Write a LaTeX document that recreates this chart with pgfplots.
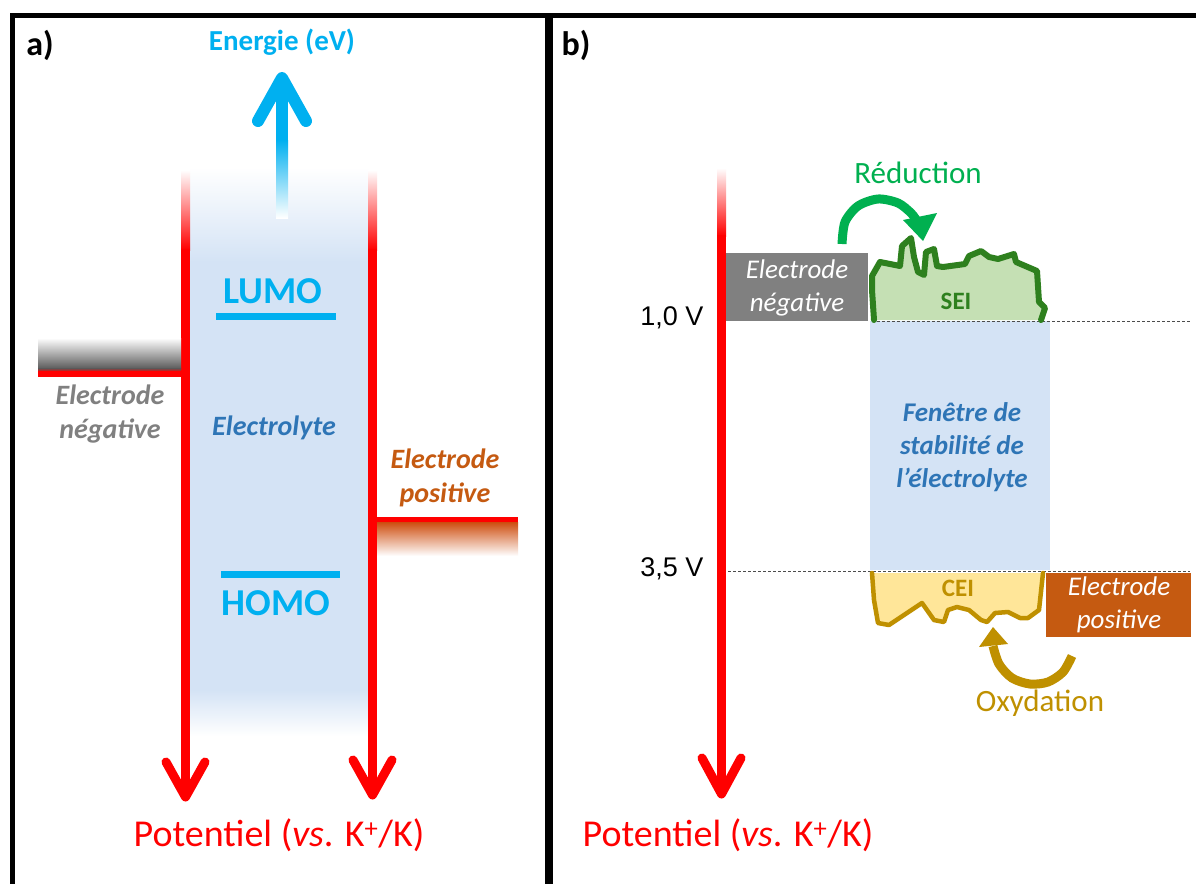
\documentclass[border=0pt]{standalone}
\usepackage{pgfplots}
\pgfplotsset{compat=1.18}
\usepackage{fontspec}
\setmainfont{Carlito}
\newfontfamily\arialfont{Liberation Sans}
\definecolor{cblue}{HTML}{00B0F0}
\definecolor{eblue}{HTML}{2E75B6}
\definecolor{lyte}{RGB}{212,227,245}
\definecolor{egray}{RGB}{128,128,128}
\definecolor{ebrown}{HTML}{C55A11}
\definecolor{seifill}{HTML}{C5E0B4}
\definecolor{seiline}{RGB}{46,128,30}
\definecolor{redgreen}{HTML}{00B050}
\definecolor{ceifill}{HTML}{FFE699}
\definecolor{gold}{HTML}{BF9000}
\newcommand{\fs}[1]{\fontsize{#1}{#1}\selectfont}

\begin{document}
\begin{tikzpicture}
\begin{axis}[width=1196pt, height=884pt, scale only axis,
  xmin=0, xmax=1196, ymin=0, ymax=884, y dir=reverse,
  hide axis, clip=false]

% background and frames
\addplot[draw=none, fill=white] coordinates {(0,0)(1196,0)(1196,884)(0,884)} -- cycle;
\addplot[draw=none, fill=black] coordinates {(10,13)(1196,13)(1196,18)(10,18)} -- cycle;
\addplot[draw=none, fill=black] coordinates {(10,13)(15,13)(15,884)(10,884)} -- cycle;
\addplot[draw=none, fill=black] coordinates {(545,13)(553,13)(553,884)(545,884)} -- cycle;

% ---------- panel a ----------
% electrolyte
\addplot[draw=none, top color=white, bottom color=lyte] coordinates {(190,167)(368,167)(368,262)(190,262)} -- cycle;
\addplot[draw=none, fill=lyte] coordinates {(190,261)(368,261)(368,691)(190,691)} -- cycle;
\addplot[draw=none, top color=lyte, bottom color=white] coordinates {(190,690)(368,690)(368,736)(190,736)} -- cycle;

% energy arrow
\addplot[draw=none, top color=cblue, bottom color=white] coordinates {(276,140)(288,140)(288,218)(276,218)} -- cycle;
\addplot[draw=none, fill=cblue] coordinates {(276,85)(288,85)(288,141)(276,141)} -- cycle;
\addplot[cblue, line width=12pt, line cap=round, line join=round] coordinates {(258,121)(282,78)(306,121)};

% red potential axes
\addplot[draw=none, top color=white, bottom color=red] coordinates {(181,170)(190,170)(190,250)(181,250)} -- cycle;
\addplot[draw=none, fill=red] coordinates {(181,249)(190,249)(190,794)(181,794)} -- cycle;
\addplot[red, line width=9pt, line cap=round, line join=round] coordinates {(166,762)(185.5,797)(205,762)};
\addplot[draw=none, top color=white, bottom color=red] coordinates {(368,170)(377,170)(377,250)(368,250)} -- cycle;
\addplot[draw=none, fill=red] coordinates {(368,249)(377,249)(377,792)(368,792)} -- cycle;
\addplot[red, line width=9pt, line cap=round, line join=round] coordinates {(353,760)(372.5,795)(392,760)};

% LUMO / HOMO
\addplot[cblue, line width=7pt] coordinates {(216,316)(336,316)};
\addplot[cblue, line width=7pt] coordinates {(221,574)(340,574)};

% electrodes
\addplot[draw=none, top color=white, bottom color=black!65] coordinates {(38,338)(181,338)(181,369)(38,369)} -- cycle;
\addplot[draw=none, top color=black!65, bottom color=red] coordinates {(38,368)(181,368)(181,372)(38,372)} -- cycle;
\addplot[draw=none, fill=red] coordinates {(38,371)(181,371)(181,377)(38,377)} -- cycle;
\addplot[draw=none, fill=red] coordinates {(377,517)(518,517)(518,523)(377,523)} -- cycle;
\addplot[draw=none, top color=ebrown!85!red, bottom color=white] coordinates {(377,522)(518,522)(518,556)(377,556)} -- cycle;

\node[font=\fs{34}\bfseries] at (axis cs:40,45) {a)};
\node[font=\fs{29}\bfseries, text=cblue] at (axis cs:282,42) {Energie (eV)};
\node[font=\fs{38}\bfseries, text=cblue] at (axis cs:273,291) {LUMO};
\node[font=\fs{38}\bfseries, text=cblue] at (axis cs:276,603) {HOMO};
\node[font=\fs{28}\bfseries\itshape, text=eblue] at (axis cs:274,428) {Electrolyte};
\node[font=\fs{28}\bfseries\itshape, text=egray, align=center] at (axis cs:110,414) {Electrode\\[6pt]négative};
\node[font=\fs{28}\bfseries\itshape, text=ebrown, align=center] at (axis cs:445,478) {Electrode\\[6pt]positive};
\node[font=\fs{38}, text=red] at (axis cs:279,835) {Potentiel (\textit{vs}. K\textsuperscript{+}/K)};

% ---------- panel b ----------
% stability window
\addplot[draw=none, fill=lyte] coordinates {(870,321)(1050,321)(1050,570)(870,570)} -- cycle;

% red axis
\addplot[draw=none, top color=white, bottom color=red] coordinates {(717,168)(726,168)(726,236)(717,236)} -- cycle;
\addplot[draw=none, fill=red] coordinates {(717,235)(726,235)(726,792)(717,792)} -- cycle;
\addplot[red, line width=9pt, line cap=round, line join=round] coordinates {(702,758)(721.5,794)(741,758)};

% dashed levels
\addplot[black!70, line width=1pt, dash pattern=on 3pt off 2pt] coordinates {(872,321)(1190,321)};
\addplot[black!70, line width=1pt, dash pattern=on 3pt off 2pt] coordinates {(728,571)(1190,571)};

% negative electrode box
\addplot[draw=none, fill=egray] coordinates {(726,253)(868,253)(868,321)(726,321)} -- cycle;
% positive electrode box
\addplot[draw=none, fill=ebrown] coordinates {(1046,573)(1191,573)(1191,637)(1046,637)} -- cycle;

% SEI
\addplot[draw=none, fill=seifill] coordinates {(874,320)(872,290)(872,276)(880,262)(900,266)(902,246)(911,238)(914,257)(918,272)(924,275)(926,252)(934,249)(937,266)(943,267)(965,264)(969,256)(981,251)(989,257)(998,259)(1014,254)(1016,262)(1037,271)(1039,302)(1045,308)(1041,320)} -- cycle;
\addplot[seiline, line width=6pt, line join=round, line cap=round] coordinates {(874,320)(872,290)(872,276)(880,262)(900,266)(902,246)(911,238)(914,257)(918,272)(924,275)(926,252)(934,249)(937,266)(943,267)(965,264)(969,256)(981,251)(989,257)(998,259)(1014,254)(1016,262)(1037,271)(1039,302)(1045,308)(1041,320)};

% CEI
\addplot[draw=none, fill=ceifill] coordinates {(872,573)(874,600)(878,623)(889,625)(901,617)(922,603)(934,620)(944,622)(948,610)(957,607)(969,610)(981,620)(987,622)(995,613)(1008,612)(1020,618)(1028,618)(1039,610)(1043,573)} -- cycle;
\addplot[gold, line width=4.5pt, line join=round, line cap=round] coordinates {(872,573)(874,600)(878,623)(889,625)(901,617)(922,603)(934,620)(944,622)(948,610)(957,607)(969,610)(981,620)(987,622)(995,613)(1008,612)(1020,618)(1028,618)(1039,610)(1043,573)};

% reduction arrow
\addplot[redgreen, line width=9pt, smooth] coordinates {(842,244)(845,222)(858,206)(878,199)(898,203)(911,213)(917,221)};
\addplot[draw=none, fill=redgreen] coordinates {(903,220)(937,213)(923,241)} -- cycle;

% oxidation arrow
\addplot[gold, line width=9pt, smooth] coordinates {(1072,656)(1063,672)(1048,682)(1030,684)(1012,678)(999,664)(993,646)};
\addplot[draw=none, fill=gold] coordinates {(979,647)(1008,644)(993,627)} -- cycle;

\node[font=\fs{34}\bfseries] at (axis cs:576,45) {b)};
\node[font=\fs{31}, text=redgreen] at (axis cs:918,173) {Réduction};
\node[font=\fs{31}, text=gold] at (axis cs:1040,703) {Oxydation};
\node[font=\fs{25}\bfseries, text=seiline] at (axis cs:956,301) {SEI};
\node[font=\fs{25}\bfseries, text=gold] at (axis cs:958,588) {CEI};
\node[font=\fs{27}\itshape, text=white, align=center] at (axis cs:797,288) {Electrode\\[6pt]négative};
\node[font=\fs{27}\itshape, text=white, align=center] at (axis cs:1119,605) {Electrode\\[6pt]positive};
\node[font=\fs{27}\bfseries\itshape, text=eblue, align=center] at (axis cs:962,447) {Fenêtre de\\[6pt]stabilité de\\[6pt]l’électrolyte};
\node[font=\arialfont\fs{27}, anchor=east] at (axis cs:707,318) {1,0 V};
\node[font=\arialfont\fs{27}, anchor=east] at (axis cs:707,569) {3,5 V};
\node[font=\fs{38}, text=red] at (axis cs:728,835) {Potentiel (\textit{vs}. K\textsuperscript{+}/K)};

\end{axis}
\end{tikzpicture}
\end{document}
